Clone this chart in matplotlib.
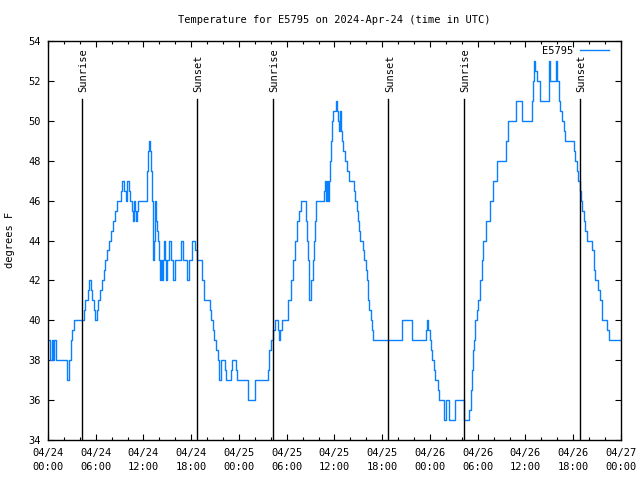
import matplotlib
matplotlib.use("Agg")
import matplotlib.pyplot as plt

# Data: hours since 2024-04-24 00:00 UTC, temperature in F (value holds until next point)
hours = [
    0.0, 0.3, 0.45, 0.6, 0.75, 0.95, 2.45, 2.7, 2.85, 3.05, 3.3, 4.55, 4.7, 5.0, 5.1,
    5.4, 5.55, 5.75, 5.95, 6.1, 6.3, 6.55, 6.75, 7.0, 7.2, 7.45, 7.65, 7.9, 8.15, 8.4,
    8.65, 9.2, 9.35, 9.6, 9.75, 9.9, 10.15, 10.3, 10.55, 10.65, 10.75, 10.85, 10.95,
    11.05, 11.2, 11.35, 12.44, 12.5, 12.6, 12.7, 12.8, 12.94, 13.07, 13.2, 13.25, 13.32,
    13.45, 13.6, 13.7, 13.82, 13.95, 14.07, 14.2, 14.32, 14.45, 14.58, 14.7, 14.83,
    14.95, 15.2, 15.46, 15.7, 15.96, 16.7, 16.96, 17.47, 17.7, 18.1, 18.47, 18.72,
    19.35, 19.6, 20.36, 20.5, 20.7, 20.9, 21.1, 21.3, 21.5, 21.7, 22.2, 22.35, 22.95,
    23.1, 23.65, 23.8, 25.15, 25.95, 27.65, 27.8, 28.0, 28.3, 28.5, 28.9, 29.05, 29.2,
    29.35, 30.2, 30.55, 30.8, 31.05, 31.25, 31.5, 31.85, 32.45, 32.55, 32.65, 32.75,
    32.85, 33.0, 33.1, 33.25, 33.4, 33.55, 33.7, 34.7, 34.8, 34.9, 35.0, 35.15, 35.3,
    35.45, 35.55, 35.7, 35.85, 36.15, 36.35, 36.45, 36.6, 36.7, 36.8, 36.9, 37.1,
    37.35, 37.6, 37.85, 38.45, 38.6, 38.8, 38.95, 39.1, 39.2, 39.6, 39.75, 39.9, 40.05,
    40.2, 40.35, 40.55, 40.7, 40.84, 44.49, 45.8, 47.45, 47.6, 47.75, 47.95, 48.15,
    48.3, 48.45, 48.6, 48.95, 49.1, 49.8, 50.0, 50.45, 51.2, 52.25, 52.95, 53.1, 53.3,
    53.4, 53.55, 53.7, 53.85, 54.0, 54.3, 54.5, 54.7, 55.1, 55.5, 55.9, 56.45, 57.6,
    57.85, 58.85, 59.6, 60.85, 60.95, 61.1, 61.25, 61.4, 61.8, 62.9, 63.05, 63.85,
    64.0, 64.2, 64.35, 64.6, 64.8, 64.97, 66.05, 66.25, 66.45, 66.65, 66.8, 66.95,
    67.1, 67.3, 67.5, 67.7, 68.4, 68.55, 68.65, 68.75, 69.1, 69.3, 69.6, 70.3, 70.45,
    71.88,
]
temps = [
    39, 38, 39, 38, 39, 38, 37, 38, 39, 39.5, 40, 40.5, 41, 41.5, 42,
    41.5, 41, 40.5, 40, 40.5, 41, 41.5, 42, 42.5, 43, 43.5, 44, 44.5, 45, 45.5,
    46, 46.5, 47, 46.5, 46, 47, 46.5, 46, 45.5, 45, 45.5, 46, 45.5,
    45, 45.5, 46, 46.5, 47.5, 48.5, 49, 48.5, 47.5, 46, 44, 43, 44,
    46, 45, 44.5, 44, 43, 42, 43, 42, 43, 44, 43, 42,
    43, 44, 43, 42, 43, 44, 43, 42, 43, 44, 43.5, 43,
    42, 41, 40.5, 40, 39.5, 39, 38.5, 38, 37, 38, 37.5, 37, 37.5,
    38, 37.5, 37, 36, 37, 37.5, 38.5, 39, 39.5, 40, 39.5, 39, 39.5,
    40, 41, 42, 43, 44, 45, 45.5, 46, 45, 44, 43, 42,
    41, 41.5, 42, 43, 44, 45, 46, 46.5, 47, 46, 47, 46, 47,
    48, 49, 50, 50.5, 51, 50.5, 50, 49.5, 50.5, 49.5, 49, 48.5,
    48, 47.5, 47, 46.5, 46, 45.5, 45, 44.5, 44, 43.5, 43, 42.5, 42,
    41, 40.5, 40, 39.5, 39, 40, 39, 39.5, 40, 39.5, 39, 38.5,
    38, 37.5, 37, 36.5, 36, 35, 36, 35, 36, 35, 35.5, 36.5, 37.5,
    38.5, 39, 40, 40.5, 41, 42, 43, 44, 45, 46, 47, 48, 49,
    50, 51, 50, 51, 52, 53, 52.5, 52, 51, 53, 52, 53,
    52, 51, 50.5, 50, 49.5, 49, 48.5, 48, 47.5, 47, 46.5, 46,
    45.5, 45, 44.5, 44, 43.5, 43, 42.5, 42, 41.5, 41, 40, 39.5, 39,
    39,
]

sunrise = [4.25, 28.25, 52.25]
sunset = [18.68, 42.78, 66.85]

tick_hours = list(range(0, 73, 6))
tick_labels = ["04/24\n00:00", "04/24\n06:00", "04/24\n12:00", "04/24\n18:00",
               "04/25\n00:00", "04/25\n06:00", "04/25\n12:00", "04/25\n18:00",
               "04/26\n00:00", "04/26\n06:00", "04/26\n12:00", "04/26\n18:00",
               "04/27\n00:00"]

plt.rcParams["font.family"] = "DejaVu Sans Mono"
fs = 7.5

fig = plt.figure(figsize=(6.4, 4.8), dpi=100)
ax = fig.add_axes([0.075, 0.0833, 0.8953, 0.8313])

ax.plot(hours, temps, drawstyle="steps-post", color="#0a80ff", lw=1.0, label="E5795")

for h in sunrise:
    ax.plot([h, h], [34, 51.1], color="black", lw=1.0)
    ax.text(h + 0.2, 51.45, "Sunrise", rotation=90, ha="center", va="bottom", fontsize=fs)
for h in sunset:
    ax.plot([h, h], [34, 51.1], color="black", lw=1.0)
    ax.text(h + 0.2, 51.45, "Sunset", rotation=90, ha="center", va="bottom", fontsize=fs)

ax.set_xlim(0, 72)
ax.set_ylim(34, 54)
ax.set_xticks(tick_hours)
ax.set_xticklabels(tick_labels, linespacing=1.4)
ax.set_xticks(range(0, 73, 2), minor=True)
ax.set_yticks(range(34, 55, 2))
ax.tick_params(which="both", direction="in", top=True, right=True, labelsize=fs, width=0.8)
ax.tick_params(which="major", length=4)
ax.tick_params(which="minor", length=2.5)
ax.tick_params(axis="x", pad=6)
ax.tick_params(axis="y", pad=5)
for s in ax.spines.values():
    s.set_linewidth(1.0)

ax.set_title("Temperature for E5795 on 2024-Apr-24 (time in UTC)", fontsize=fs, pad=13)
fig.text(0.016, 0.5, "degrees F", rotation=90, ha="center", va="center", fontsize=fs)

ax.legend(loc="upper right", frameon=False, markerfirst=False, fontsize=fs,
          handlelength=2.8, borderaxespad=0.1, borderpad=0.2, handletextpad=0.7,
          bbox_to_anchor=(0.985, 0.995))

fig.savefig("out.png", dpi=100)
